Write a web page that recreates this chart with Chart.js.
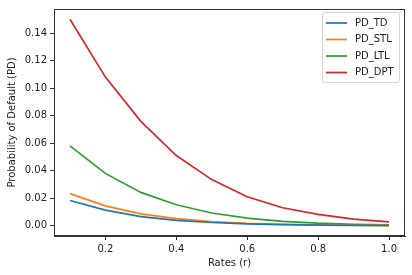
<!DOCTYPE html>
<html>
<head>
<meta charset="utf-8">
<script src="https://cdn.jsdelivr.net/npm/chart.js@4"></script>
<style>
  html, body { margin: 0; padding: 0; background: #fff; }
  #wrap { width: 412px; height: 275px; }
</style>
</head>
<body>
<div id="wrap"><canvas id="pdChart"></canvas></div>
<script>
// rates on the x axis
const rates = [0.1, 0.2, 0.3, 0.4, 0.5, 0.6, 0.7, 0.8, 0.9, 1.0];
// PD series
const pdTD  = [0.0183, 0.0113, 0.0066, 0.0039, 0.0023, 0.0013, 0.0008, 0.0004, 0.0002, 0.0001];
const pdSTL = [0.0233, 0.0144, 0.0086, 0.0051, 0.0030, 0.0017, 0.0010, 0.0006, 0.0003, 0.0002];
const pdLTL = [0.0580, 0.0380, 0.0242, 0.0152, 0.0092, 0.0055, 0.0032, 0.0018, 0.0010, 0.0006];
const pdDPT = [0.1500, 0.1080, 0.0758, 0.0510, 0.0335, 0.0210, 0.0130, 0.0082, 0.0048, 0.0028];
const seriesNames = ['PD_TD', 'PD_STL', 'PD_LTL', 'PD_DPT'];
const xTicks = [0.2, 0.4, 0.6, 0.8, 1.0];
const yTicks = [0.00, 0.02, 0.04, 0.06, 0.08, 0.10, 0.12, 0.14];

const colors = ['#1f77b4', '#ff7f0e', '#2ca02c', '#d62728'];
const allSeries = [pdTD, pdSTL, pdLTL, pdDPT];
const font = { family: 'DejaVu Sans', size: 10 };

const datasets = allSeries.map((vals, i) => ({
    label: seriesNames[i],
    data: vals.map((v, j) => ({ x: rates[j], y: v })),
    borderColor: colors[i],
    backgroundColor: colors[i],
    borderWidth: 1.7,
    pointRadius: 0,
    tension: 0,
    fill: false
}));

// frame + legend box like matplotlib
const framePlugin = {
    id: 'frame',
    afterDraw(chart) {
        const { ctx, chartArea: a } = chart;
        ctx.save();
        ctx.strokeStyle = '#333';
        ctx.lineWidth = 1;
        ctx.strokeRect(a.left + 0.5, a.top + 0.5, a.right - a.left - 1, a.bottom - a.top - 1);

        // legend
        const bx = 322, by = 12, bw = 77, bh = 70;
        ctx.fillStyle = 'rgba(255,255,255,0.8)';
        ctx.strokeStyle = '#d6d6d6';
        ctx.beginPath();
        ctx.roundRect(bx + 0.5, by + 0.5, bw, bh, 2);
        ctx.fill();
        ctx.stroke();
        ctx.font = '10px "DejaVu Sans"';
        ctx.textBaseline = 'middle';
        seriesNames.forEach((name, i) => {
            const yy = by + 11 + i * 16.5;
            ctx.strokeStyle = colors[i];
            ctx.lineWidth = 1.7;
            ctx.beginPath();
            ctx.moveTo(bx + 4, yy);
            ctx.lineTo(bx + 25, yy);
            ctx.stroke();
            ctx.fillStyle = '#222';
            ctx.fillText(name, bx + 33, yy);
        });
        ctx.restore();
    }
};

new Chart(document.getElementById('pdChart').getContext('2d'), {
    type: 'line',
    data: { datasets: datasets },
    options: {
        responsive: true,
        maintainAspectRatio: false,
        animation: false,
        layout: { padding: { left: 0, top: 6, right: 7, bottom: 0 } },
        plugins: {
            legend: { display: false },
            tooltip: { enabled: false }
        },
        scales: {
            x: {
                type: 'linear',
                min: 0.055,
                max: 1.045,
                afterBuildTicks: (scale) => { scale.ticks = xTicks.map(v => ({ value: v })); },
                afterFit: (scale) => { scale.height = 39; },
                grid: { display: true, drawOnChartArea: false, tickLength: 4, color: '#333' },
                border: { display: true, color: '#333' },
                ticks: {
                    color: '#222', font: font, padding: 3, maxRotation: 0,
                    callback: (v) => Number(v).toFixed(1)
                },
                title: { display: true, text: 'Rates (r)', color: '#222', font: font, padding: { top: 2, bottom: 6 } }
            },
            y: {
                min: -0.0075,
                max: 0.1575,
                afterBuildTicks: (scale) => { scale.ticks = yTicks.map(v => ({ value: v })); },
                afterFit: (scale) => { scale.width = 54; },
                grid: { display: true, drawOnChartArea: false, tickLength: 4, color: '#333' },
                border: { display: true, color: '#333' },
                ticks: {
                    color: '#222', font: font, padding: 3,
                    callback: (v) => Number(v).toFixed(2)
                },
                title: { display: true, text: 'Probability of Default (PD)', color: '#222', font: font, padding: { top: 6, bottom: 4 } }
            }
        }
    },
    plugins: [framePlugin]
});
</script>
</body>
</html>
